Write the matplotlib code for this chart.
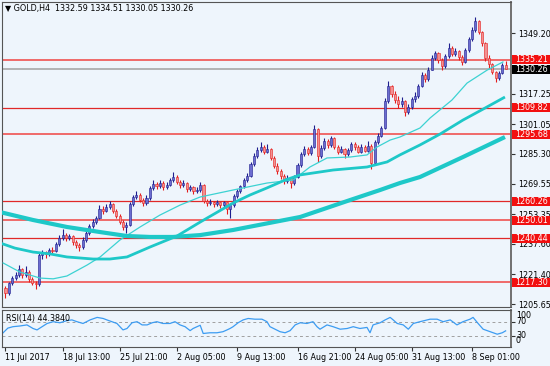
import numpy as np
import matplotlib
matplotlib.use("Agg")
from matplotlib import pyplot as plt
from matplotlib.patches import Rectangle
from matplotlib.transforms import blended_transform_factory

# --- GOLD H4 candles (open = previous close) ---
first_open = 1214.0
closes = [
    1211.5, 1216.8, 1219.5, 1221.0, 1224.0, 1221.0, 1222.8, 1219.0, 1217.0, 1216.0,
    1231.5, 1233.0, 1232.0, 1234.5, 1233.5, 1237.5, 1240.5, 1242.5, 1240.5, 1241.5,
    1238.5, 1237.0, 1236.0, 1239.5, 1243.5, 1247.0, 1249.0, 1251.0, 1256.0, 1255.0,
    1257.0, 1258.5, 1255.0, 1252.5, 1249.0, 1246.5, 1247.5, 1258.5, 1262.5, 1263.5,
    1261.0, 1259.0, 1262.0, 1267.0, 1269.5, 1268.0, 1270.0, 1267.5, 1269.0, 1271.5,
    1273.0, 1270.5, 1268.5, 1270.0, 1266.5, 1267.5, 1265.5, 1266.0, 1269.0, 1260.5,
    1259.0, 1260.0, 1258.5, 1259.5, 1258.0, 1259.5, 1256.0, 1258.0, 1263.0, 1265.5,
    1268.0, 1271.5, 1273.5, 1280.0, 1284.0, 1287.5, 1289.0, 1286.5, 1288.0, 1283.0,
    1279.0, 1276.0, 1273.5, 1271.0, 1272.5, 1270.0, 1273.0, 1279.5, 1285.0, 1288.0,
    1285.5, 1289.0, 1298.5, 1284.0, 1288.5, 1292.0, 1290.0, 1293.5, 1289.0, 1286.5,
    1288.0, 1285.0, 1287.5, 1290.5, 1289.0, 1286.5, 1289.0, 1287.0, 1289.5, 1280.5,
    1291.5, 1295.0, 1299.0, 1313.5, 1321.0, 1317.0, 1314.0, 1311.5, 1313.5, 1307.5,
    1310.0, 1314.5, 1316.0, 1321.5, 1327.0, 1325.0, 1330.0, 1336.0, 1338.5, 1335.0,
    1332.0, 1337.0, 1341.5, 1338.0, 1340.0, 1336.5, 1334.0, 1340.5, 1346.0, 1351.0,
    1355.5, 1350.0, 1344.0, 1336.0, 1333.0, 1328.5, 1325.5, 1328.0, 1332.59, 1330.26,
]
highs = [
    1215.0, 1217.5, 1220.5, 1222.5, 1226.5, 1225.0, 1226.0, 1223.5, 1220.0, 1218.0,
    1233.0, 1234.5, 1234.0, 1235.5, 1236.0, 1238.5, 1242.0, 1245.5, 1243.5, 1243.0,
    1242.0, 1239.5, 1238.0, 1241.0, 1244.5, 1248.0, 1250.5, 1252.5, 1258.0, 1257.5,
    1258.5, 1260.5, 1259.0, 1256.0, 1253.5, 1250.0, 1249.0, 1259.5, 1263.5, 1265.5,
    1264.5, 1262.0, 1263.5, 1268.0, 1271.5, 1270.5, 1271.5, 1271.0, 1270.5, 1272.5,
    1275.5, 1274.0, 1271.5, 1271.5, 1270.5, 1269.0, 1268.0, 1267.5, 1270.5, 1269.5,
    1261.5, 1261.5, 1260.5, 1261.0, 1260.0, 1260.5, 1260.0, 1259.0, 1264.0, 1266.5,
    1269.0, 1272.5, 1275.0, 1281.0, 1285.5, 1289.0, 1291.8, 1290.0, 1290.5, 1288.5,
    1284.0, 1280.5, 1277.0, 1274.5, 1274.0, 1273.0, 1274.0, 1280.5, 1286.0, 1289.5,
    1289.0, 1290.0, 1300.8, 1299.0, 1290.0, 1293.5, 1293.0, 1294.5, 1294.0, 1290.0,
    1289.5, 1288.5, 1288.5, 1291.5, 1291.5, 1290.0, 1290.5, 1290.0, 1292.0, 1290.5,
    1292.5, 1296.5, 1300.0, 1315.0, 1324.0, 1322.0, 1318.5, 1316.0, 1315.5, 1314.0,
    1311.5, 1315.5, 1318.0, 1322.5, 1328.5, 1328.0, 1331.5, 1337.5, 1340.0, 1339.5,
    1336.0, 1338.0, 1344.0, 1342.5, 1341.5, 1340.5, 1337.5, 1341.5, 1347.0, 1352.5,
    1357.8, 1356.5, 1350.5, 1344.5, 1337.5, 1333.5, 1329.0, 1329.0, 1333.5, 1334.51,
]
lows = [
    1209.0, 1210.5, 1215.5, 1218.5, 1220.0, 1219.5, 1220.0, 1217.5, 1215.5, 1213.5,
    1215.0, 1229.5, 1230.0, 1231.0, 1232.0, 1233.0, 1236.5, 1239.5, 1239.0, 1239.5,
    1237.0, 1235.5, 1233.5, 1235.0, 1238.5, 1242.5, 1246.0, 1248.0, 1250.5, 1253.5,
    1254.5, 1256.0, 1254.0, 1251.5, 1248.0, 1245.0, 1243.5, 1247.0, 1257.5, 1261.5,
    1260.0, 1257.5, 1258.0, 1261.0, 1266.0, 1266.5, 1267.0, 1266.0, 1266.5, 1268.0,
    1270.5, 1269.5, 1267.0, 1267.5, 1265.0, 1265.5, 1264.0, 1264.5, 1265.0, 1259.0,
    1257.5, 1258.0, 1257.0, 1257.5, 1256.5, 1257.0, 1253.5, 1251.5, 1257.0, 1262.0,
    1264.5, 1267.0, 1270.5, 1273.0, 1279.0, 1283.0, 1286.5, 1285.0, 1285.5, 1282.0,
    1278.0, 1274.5, 1272.0, 1269.5, 1270.0, 1267.0, 1269.0, 1272.5, 1278.5, 1284.0,
    1284.5, 1284.5, 1288.5, 1281.0, 1283.0, 1287.5, 1288.5, 1289.0, 1288.0, 1285.0,
    1285.5, 1283.0, 1284.0, 1286.5, 1287.5, 1285.5, 1285.5, 1286.0, 1286.0, 1277.0,
    1280.0, 1290.5, 1294.0, 1298.5, 1312.5, 1315.5, 1312.0, 1309.5, 1310.0, 1305.5,
    1306.5, 1309.0, 1313.0, 1315.0, 1320.5, 1323.5, 1324.0, 1329.5, 1335.0, 1333.5,
    1329.5, 1331.0, 1336.0, 1337.0, 1337.0, 1335.0, 1332.5, 1333.5, 1339.5, 1345.0,
    1350.0, 1349.0, 1342.5, 1334.5, 1331.0, 1327.5, 1323.5, 1324.5, 1327.5, 1330.05,
]

# moving averages (bar index, price)
ma_fast_x = [-0.7, 4.3, 10.3, 14.2, 18.3, 24.3, 28.2, 34.1, 40.1, 46.0, 52.0, 58.0,
             67.8, 77.9, 85.7, 90.7, 95.8, 102.7, 107.7, 110.7, 114.6, 117.5, 123.5,
             126.5, 133.0, 137.5, 143.5, 148.2]
ma_fast_y = [1227.4, 1222.6, 1219.4, 1219.0, 1220.5, 1226.3, 1230.6, 1239.6, 1246.5,
             1252.8, 1258.1, 1262.4, 1266.1, 1269.8, 1271.4, 1278.3, 1283.1, 1283.6,
             1284.7, 1288.9, 1292.6, 1294.2, 1299.0, 1304.3, 1313.8, 1322.8, 1329.7,
             1334.0]
ma_mid_x = [-1.6, 2.8, 8.2, 13.3, 18.3, 26.1, 31.1, 36.2, 43.1, 47.5, 51.1, 58.0,
            67.8, 72.9, 77.9, 83.3, 87.8, 97.6, 107.7, 113.7, 117.5, 123.5, 129.5,
            136.3, 142.9, 148.8]
ma_mid_y = [1238.0, 1235.3, 1233.2, 1232.2, 1230.6, 1229.5, 1229.5, 1230.6, 1235.9,
            1239.1, 1241.7, 1249.1, 1259.2, 1263.5, 1267.2, 1271.4, 1274.1, 1276.7,
            1278.3, 1281.0, 1284.7, 1290.0, 1295.8, 1303.2, 1309.6, 1315.4]
ma_slow_x = [-1.6, 8.2, 18.3, 28.2, 36.2, 43.1, 49.9, 58.0, 67.8, 87.8, 102.7, 111.6,
             117.5, 123.5, 136.3, 148.8]
ma_slow_y = [1254.4, 1250.2, 1246.5, 1243.8, 1241.7, 1241.2, 1241.2, 1242.2, 1244.9,
             1251.8, 1260.8, 1266.1, 1269.8, 1273.0, 1283.6, 1294.2]

# RSI(14)
rsi_x = [-0.7, 0.7, 2.2, 4.3, 6.4, 8.2, 9.4, 10.9, 12.4, 14.2, 16.2, 18.3, 19.8, 21.3,
         23.1, 25.2, 27.3, 29.1, 30.2, 31.7, 33.2, 35.0, 36.2, 37.7, 39.2, 40.7, 42.2,
         43.7, 45.1, 46.9, 49.0, 50.5, 52.0, 53.5, 55.0, 55.9, 58.0, 58.9, 60.9, 63.0,
         64.8, 66.0, 66.9, 67.8, 69.3, 70.8, 72.3, 74.3, 76.4, 77.9, 78.8, 80.3, 81.8,
         83.3, 84.8, 86.3, 87.8, 89.8, 91.6, 92.8, 93.7, 95.8, 97.6, 99.7, 101.8, 103.6,
         105.6, 107.7, 108.6, 109.5, 111.6, 113.1, 114.6, 115.5, 116.7, 118.5, 120.0,
         121.5, 123.5, 126.5, 128.6, 130.4, 132.5, 134.5, 136.3, 138.4, 139.3, 140.8,
         142.3, 144.4, 146.5, 148.0, 149.0]
rsi_y = [39, 52, 56, 58, 61, 51, 47, 56, 65, 70, 67, 73, 75, 70,
         65, 75, 82, 79, 75, 70, 65, 47, 51, 67, 70, 61, 61,
         67, 70, 65, 65, 70, 61, 56, 45, 51, 60, 37, 39, 39,
         42, 47, 51, 56, 67, 75, 79, 77, 77, 70, 56, 49, 42,
         39, 45, 61, 67, 65, 70, 56, 49, 61, 56, 49, 51, 56,
         51, 54, 39, 61, 67, 75, 82, 75, 65, 61, 49,
         65, 70, 77, 77, 70, 75, 61, 70, 77, 82, 65,
         49, 42, 35, 39, 44.38]

levels = [1335.21, 1309.82, 1295.68, 1260.26, 1250.01, 1240.44, 1217.30]
level_heavy = [True, False, True, False, True, False, True]
last_price = 1330.26
# the scale label between 1349.20 and 1317.25 is hidden under the price boxes
price_ticks = [1349.20, 1317.25, 1301.05, 1285.30, 1269.55, 1253.35,
               1237.60, 1221.40, 1205.65]
date_ticks = [0, 17, 34, 51, 69, 87, 104, 121, 139]
date_labels = ["11 Jul 2017", "18 Jul 13:00", "25 Jul 21:00", "2 Aug 05:00",
               "9 Aug 13:00", "16 Aug 21:00", "24 Aug 05:00", "31 Aug 13:00",
               "8 Sep 01:00"]

BG = "#eef5fc"
UP_DARK, UP_BODY = "#1e1e8e", "#6c6cd0"
DN_DARK, DN_BODY = "#e41c1c", "#f39090"
MA_COL = "#1ec8c8"
FS = 5.8

W, H = 550, 366
fig = plt.figure(figsize=(W / 100, H / 100), dpi=100, facecolor=BG)
ax = fig.add_axes([2 / W, (H - 307) / H, 509 / W, 305 / H], facecolor=BG)
ax_rsi = fig.add_axes([2 / W, (H - 347) / H, 509 / W, 37 / H], facecolor=BG)

for a in (ax, ax_rsi):
    for s in a.spines.values():
        s.set_color("#555555")
        s.set_linewidth(0.8)
    a.spines["right"].set_color("#707070")
    a.spines["right"].set_linewidth(1.4)

# --- main price panel ---
closes = np.array(closes)
highs = np.array(highs)
lows = np.array(lows)
opens = np.r_[first_open, closes[:-1]]
xs = np.arange(len(closes))
up = closes >= opens

for i, lvl in enumerate(levels):
    if level_heavy[i]:
        ax.axhline(lvl, color="#f06a6a", lw=1.4, zorder=1)
    else:
        ax.axhline(lvl, color="#e02828", lw=0.9, zorder=1)
ax.axhline(last_price, color="#a8a8a8", lw=1.2, zorder=1)

for mask, dark, body in ((up, UP_DARK, UP_BODY), (~up, DN_DARK, DN_BODY)):
    ax.vlines(xs[mask], lows[mask], highs[mask], color=dark, lw=0.8, zorder=2)
    hgt = np.abs(closes - opens)[mask]
    hgt = np.maximum(hgt, 0.4)
    ax.bar(xs[mask], hgt, bottom=np.minimum(opens, closes)[mask], width=0.62,
           color=body, edgecolor=dark, linewidth=0.4, zorder=3)

ax.plot(ma_fast_x, ma_fast_y, color="#3cd2d2", lw=0.9, zorder=4)
ax.plot(ma_mid_x, ma_mid_y, color=MA_COL, lw=2.0, zorder=4, solid_capstyle="butt")
ax.plot(ma_slow_x, ma_slow_y, color=MA_COL, lw=3.0, zorder=4, solid_capstyle="butt")

ax.set_xlim(-1.04, 150.6)
ax.set_ylim(1204.06, 1365.8)
ax.set_xticks([])
ax.yaxis.tick_right()
ax.set_yticks(price_ticks)
ax.set_yticklabels([f"{v:.2f}" for v in price_ticks])
ax.tick_params(axis="y", length=3, width=0.8, pad=2, labelsize=FS, color="#333333")

ax.text(3 / 509, 1 - 7 / 305, "\u25bc GOLD,H4  1332.59 1334.51 1330.05 1330.26",
        transform=ax.transAxes, fontsize=FS, va="center", ha="left")

# price labels on the right scale
blend = blended_transform_factory(fig.transFigure, ax.transData)
box_h = 9 * (1365.8 - 1204.06) / 305
for lvl in levels + [last_price]:
    col = "black" if lvl == last_price else "#f21010"
    fig.add_artist(Rectangle((512 / W, lvl - box_h / 2), 38 / W, box_h,
                             transform=blend, facecolor=col, edgecolor="none",
                             zorder=5, clip_on=False))
    fig.text(515 / W, lvl, f"{lvl:.2f}", transform=blend, color="white",
             fontsize=FS, va="center", ha="left", zorder=6)

# --- RSI panel ---
ax_rsi.axhline(70, color="#a0a0a0", lw=0.7, ls=(0, (3, 3)))
ax_rsi.axhline(30, color="#a0a0a0", lw=0.7, ls=(0, (3, 3)))
ax_rsi.plot(rsi_x, rsi_y, color="#3c9cf2", lw=0.9)
ax_rsi.set_xlim(-1.04, 150.6)
ax_rsi.set_ylim(-0.8, 102.7)
ax_rsi.yaxis.tick_right()
ax_rsi.set_yticks([70, 30])
ax_rsi.set_yticklabels([])
ax_rsi.tick_params(axis="y", length=3, width=0.8, color="#333333")
rblend = blended_transform_factory(ax_rsi.transAxes, ax_rsi.transData)
for val, ypos in (("100", 88.7), ("70", 70), ("30", 30.8), ("0", 18.7)):
    ax_rsi.text(1 + 5 / 509, ypos, val, transform=rblend, fontsize=FS,
                va="center", ha="left", clip_on=False)
ax_rsi.text(4 / 509, 1 - 9 / 37, "RSI(14) 44.3840", transform=ax_rsi.transAxes,
            fontsize=FS, va="center", ha="left")

ax_rsi.set_xticks(date_ticks)
ax_rsi.set_xticklabels(date_labels, ha="left")
ax_rsi.tick_params(axis="x", length=3, width=0.8, pad=1.5, labelsize=FS, color="#333333")

fig.savefig("out.png", dpi=100, facecolor=BG)
